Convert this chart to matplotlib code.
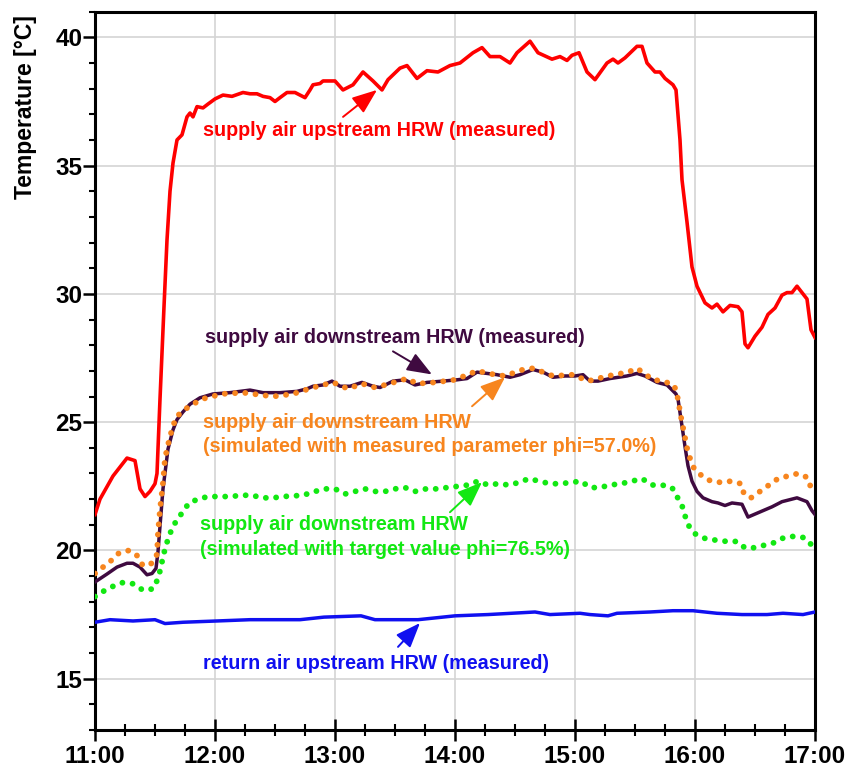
import numpy as np
import matplotlib
matplotlib.use("Agg")
import matplotlib.pyplot as plt
from matplotlib.ticker import MultipleLocator, FuncFormatter

plt.rcParams["font.family"] = ["Liberation Sans", "DejaVu Sans"]
plt.rcParams["font.weight"] = "bold"

# minutes after 11:00 and temperatures in degC
red_min = [0, 2.5, 9, 16, 20, 22.5, 25, 27.5, 30, 31, 32.5, 34.5, 36, 37.5, 39, 41,
           43.5, 46, 47.5, 49, 51, 54, 56.5, 60, 64, 68.5, 74, 77.5, 81, 84, 87.5, 90,
           92.5, 96, 100, 102.5, 105, 107.5, 109, 112.5, 114, 120, 124, 129, 134, 139,
           143.5, 146.5, 152.5, 156, 161, 166, 171.5, 177.5, 182.5, 189, 193.5, 197.5,
           202.5, 207.5, 211, 217.5, 221.5, 228.5, 232.5, 236, 238.5, 242, 246, 250,
           256, 259, 261.5, 265, 271, 273.5, 276, 280, 282.5, 285, 289, 290.5, 292.5,
           293.5, 296, 298.5, 301, 305, 308.5, 311, 314, 317.5, 321.5, 323.5, 325,
           326.5, 330, 333.5, 336.5, 340, 343.5, 346, 348.5, 351, 356, 358, 360]
red_t = [21.4, 22.0, 22.9, 23.6, 23.5, 22.4, 22.1, 22.3, 22.6, 23.0, 25.9, 29.5, 32.1,
         34.0, 35.1, 36.0, 36.2, 36.9, 37.05, 36.9, 37.3, 37.25, 37.4, 37.6, 37.75, 37.7,
         37.85, 37.8, 37.8, 37.7, 37.65, 37.5, 37.65, 37.85, 37.85, 37.75, 37.65, 37.95,
         38.15, 38.2, 38.3, 38.3, 37.95, 38.15, 38.65, 38.3, 37.95, 38.35, 38.8, 38.9,
         38.4, 38.7, 38.65, 38.9, 39.0, 39.4, 39.6, 39.25, 39.25, 39.0, 39.4, 39.85,
         39.4, 39.15, 39.25, 39.1, 39.3, 39.4, 38.65, 38.35, 39.0, 39.15, 39.0, 39.2,
         39.65, 39.65, 39.0, 38.65, 38.65, 38.4, 38.15, 37.95, 36.0, 34.45, 32.8, 31.05,
         30.3, 29.65, 29.45, 29.6, 29.3, 29.55, 29.5, 29.3, 28.05, 27.9, 28.35, 28.7,
         29.2, 29.45, 29.95, 30.05, 30.05, 30.3, 29.8, 28.6, 28.3]

meas_min = [0, 6, 11, 16, 19, 22.5, 26, 28.5, 30.5, 31.5, 32.5, 34, 36.5, 39, 41, 44,
            47.5, 52.5, 59, 67.5, 77.5, 84, 92.5, 101, 106, 109, 114, 118.5, 122.5,
            127.5, 133.5, 139, 142.5, 149, 155, 160, 166, 174, 181, 186, 191, 196, 201,
            207.5, 212.5, 219, 224, 229, 235, 240, 244, 247.5, 251.5, 257.5, 266, 271,
            275, 281, 286, 290.5, 291.5, 293.5, 295, 296.5, 298.5, 301, 304, 308.5,
            311.5, 315, 318.5, 323.5, 326.5, 332.5, 338.5, 343.5, 351, 356, 358.5, 360]
meas_t = [18.77, 19.08, 19.35, 19.5, 19.5, 19.35, 19.05, 19.1, 19.3, 19.95, 20.95, 22.4,
          23.95, 24.7, 25.1, 25.4, 25.7, 25.95, 26.1, 26.15, 26.25, 26.15, 26.15, 26.2,
          26.3, 26.4, 26.45, 26.6, 26.4, 26.4, 26.55, 26.4, 26.35, 26.6, 26.65, 26.45,
          26.55, 26.6, 26.65, 26.7, 26.95, 26.9, 26.85, 26.75, 26.85, 27.05, 26.95,
          26.75, 26.8, 26.8, 26.85, 26.6, 26.6, 26.7, 26.8, 26.9, 26.8, 26.55, 26.45,
          26.1, 25.9, 24.85, 24.05, 23.3, 22.7, 22.3, 22.05, 21.9, 21.85, 21.75, 21.85,
          21.8, 21.3, 21.5, 21.7, 21.9, 22.05, 21.9, 21.55, 21.4]

sim57_min = [0, 4, 8, 12, 17, 21, 24, 28.5, 31, 31.5, 32.5, 34, 35, 37.5, 40.5, 45, 49,
             53.5, 63.5, 74, 89, 99, 109, 119, 126.5, 133.5, 140, 145, 156, 161, 170,
             180, 191, 200, 205, 214, 219, 229, 239, 246.5, 256.5, 266.5, 271, 279, 284,
             289.5, 291, 293, 294, 295, 296, 297.5, 299.5, 303.5, 308, 313, 318, 323,
             324.5, 328, 332.5, 337, 341.5, 346.5, 351.5, 356, 358, 360]
sim57_t = [19.1, 19.35, 19.6, 19.9, 20.0, 19.8, 19.4, 19.5, 19.85, 20.7, 21.6, 22.65,
           23.6, 24.45, 25.2, 25.5, 25.7, 25.9, 26.1, 26.15, 26.0, 26.1, 26.35, 26.55,
           26.3, 26.5, 26.35, 26.45, 26.7, 26.5, 26.55, 26.65, 27.0, 26.85, 26.8, 27.05,
           27.1, 26.8, 26.85, 26.6, 26.8, 26.95, 27.1, 26.65, 26.6, 26.45, 26.1, 25.2,
           24.8, 24.4, 24.0, 23.6, 23.2, 22.9, 22.7, 22.65, 22.7, 22.6, 22.2, 22.05,
           22.3, 22.55, 22.8, 22.9, 23.0, 22.85, 22.45, 22.4]

sim765_min = [0, 4, 9, 14, 19, 24, 29, 31.5, 33, 34, 35.5, 37, 39, 42.5, 47, 51.5, 56.5,
              62.5, 67.5, 73.5, 78.5, 83.5, 89, 94, 104, 110, 115, 120, 125, 130, 135,
              140, 145, 150, 155, 160, 165.5, 171, 176, 181.5, 186.5, 191.5, 196.5,
              201.5, 207, 212, 217, 222, 227.5, 232.5, 238, 243, 247.5, 252.5, 257.5,
              263, 268.5, 273.5, 278.5, 283.5, 288.5, 291, 293.5, 295, 297, 300, 305.5,
              310.5, 316, 321, 325, 329, 334.5, 339.5, 344.5, 349.5, 354.5, 358.5, 360]
sim765_t = [18.2, 18.4, 18.6, 18.75, 18.7, 18.45, 18.5, 18.9, 19.35, 19.75, 20.2, 20.55,
            20.95, 21.35, 21.85, 22.0, 22.1, 22.1, 22.1, 22.15, 22.15, 22.05, 22.05, 22.1,
            22.15, 22.3, 22.4, 22.4, 22.2, 22.3, 22.4, 22.3, 22.3, 22.4, 22.45, 22.3,
            22.4, 22.4, 22.45, 22.5, 22.55, 22.7, 22.55, 22.6, 22.55, 22.65, 22.8, 22.7,
            22.6, 22.6, 22.65, 22.7, 22.45, 22.45, 22.55, 22.6, 22.7, 22.8, 22.55, 22.55,
            22.45, 22.1, 21.75, 21.35, 20.95, 20.65, 20.45, 20.4, 20.35, 20.35, 20.1,
            20.1, 20.2, 20.3, 20.5, 20.55, 20.5, 20.2, 20.15]

ret_min = [0, 7.5, 19, 30, 35, 44, 61, 77.5, 102.5, 114.5, 133, 140, 161.5, 180, 196.5,
           220, 227.5, 242.5, 247.5, 256.5, 261, 277.5, 289, 299, 311, 323.5, 336, 344,
           354, 360]
ret_t = [17.2, 17.3, 17.25, 17.3, 17.15, 17.2, 17.25, 17.3, 17.3, 17.4, 17.45, 17.3,
         17.3, 17.45, 17.5, 17.6, 17.5, 17.55, 17.5, 17.45, 17.55, 17.6, 17.65, 17.65,
         17.55, 17.5, 17.5, 17.55, 17.5, 17.6]

RED = "#ff0000"
PURPLE = "#3f0a40"
ORANGE = "#f7851e"
GREEN = "#12e812"
BLUE = "#1010f0"


def hours(minutes):
    return 11 + np.asarray(minutes, dtype=float) / 60.0


fig = plt.figure(figsize=(8.49, 7.71), dpi=100)
ax = fig.add_axes([95 / 849, 1 - 730 / 771, 720 / 849, 718.3 / 771])

dots = (0, (0.01, 1.75))
ax.plot(hours(red_min), red_t, color=RED, lw=2.6, zorder=3)
ax.plot(hours(ret_min), ret_t, color=BLUE, lw=2.5, zorder=3)
ax.plot(hours(sim765_min), sim765_t, color=GREEN, lw=4.2, linestyle=dots,
        dash_capstyle="round", zorder=3)
ax.plot(hours(meas_min), meas_t, color=PURPLE, lw=2.5, zorder=4)
ax.plot(hours(sim57_min), sim57_t, color=ORANGE, lw=4.2, linestyle=dots,
        dash_capstyle="round", zorder=5)

ax.set_xlim(11, 17)
ax.set_ylim(13, 41)
ax.xaxis.set_major_locator(MultipleLocator(1))
ax.xaxis.set_minor_locator(MultipleLocator(0.25))
ax.yaxis.set_major_locator(MultipleLocator(5))
ax.yaxis.set_minor_locator(MultipleLocator(1))
ax.xaxis.set_major_formatter(FuncFormatter(lambda v, p: f"{int(round(v))}:00"))
ax.grid(True, which="major", color="#d4d4d4", lw=1.2, zorder=0)

for s in ax.spines.values():
    s.set_linewidth(2.2)
ax.tick_params(axis="x", which="major", direction="inout", length=16, width=1.8,
               labelsize=17.5, pad=3)
ax.tick_params(axis="x", which="minor", direction="inout", length=8.5, width=1.5)
ax.tick_params(axis="y", which="major", direction="out", length=8.5, width=1.8,
               labelsize=17.5, pad=0.5)
ax.tick_params(axis="y", which="minor", direction="out", length=4.5, width=1.5)
for lab in ax.get_xticklabels() + ax.get_yticklabels():
    lab.set_fontweight("bold")

ax.set_ylabel("Temperature [°C]", fontsize=16.5, fontweight="bold", ha="center", va="center")
ax.yaxis.set_label_coords(-0.097, 0.867)

fs = 14.2
ax.text(11.9, 36.36, "supply air upstream HRW (measured)", color=RED, fontsize=fs,
        fontweight="bold", va="center")
ax.text(11.917, 28.30, "supply air downstream HRW (measured)", color=PURPLE, fontsize=fs,
        fontweight="bold", va="center")
ax.text(11.9, 24.53, "supply air downstream HRW\n(simulated with measured parameter phi=57.0%)",
        color=ORANGE, fontsize=fs, fontweight="bold", va="center", linespacing=1.35)
ax.text(11.875, 20.52, "supply air downstream HRW\n(simulated with target value phi=76.5%)",
        color=GREEN, fontsize=fs, fontweight="bold", va="center", linespacing=1.35)
ax.text(11.9, 15.58, "return air upstream HRW (measured)", color=BLUE, fontsize=fs,
        fontweight="bold", va="center")

arrows = [
    ((13.067, 36.90), (13.35, 37.95), RED),
    ((13.483, 27.76), (13.808, 26.86), PURPLE),
    ((14.142, 25.62), (14.417, 26.75), ORANGE),
    ((13.958, 21.49), (14.225, 22.66), GREEN),
    ((13.525, 16.24), (13.708, 17.17), BLUE),
]
for tail, tip, c in arrows:
    ax.annotate("", xy=tip, xytext=tail, zorder=6,
                arrowprops=dict(arrowstyle="-|>,head_length=0.85,head_width=0.33",
                                color=c, lw=1.4, mutation_scale=18,
                                shrinkA=0, shrinkB=0))

fig.savefig("out.png", dpi=100)
